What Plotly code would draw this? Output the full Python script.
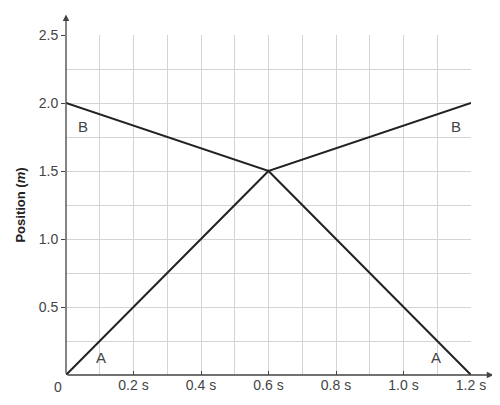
import plotly.graph_objects as go

# position-time data for the two objects
time_s = [0.0, 0.6, 1.2]
pos_a = [0.0, 1.5, 0.0]
pos_b = [2.0, 1.5, 2.0]

x_ticks = [0.2, 0.4, 0.6, 0.8, 1.0, 1.2]
x_ticklabels = ["0.2 s", "0.4 s", "0.6 s", "0.8 s", "1.0 s", "1.2 s"]
y_ticks = [0.5, 1.0, 1.5, 2.0, 2.5]
y_ticklabels = ["0.5", "1.0", "1.5", "2.0", "2.5"]

# curve labels: (text, x, y)
labels = [("B", 0.05, 1.83), ("B", 1.155, 1.83), ("A", 0.105, 0.13), ("A", 1.095, 0.13)]

FONT = "Liberation Sans"
INK = "#222222"
TXT = "#444444"

fig = go.Figure()
for ys in (pos_a, pos_b):
    fig.add_trace(go.Scatter(
        x=time_s, y=ys, mode="lines",
        line=dict(color=INK, width=2), showlegend=False, hoverinfo="skip",
    ))

for text, x, y in labels:
    fig.add_annotation(x=x, y=y, text=text, showarrow=False,
                       font=dict(family=FONT, size=15, color=TXT))

# origin label
fig.add_annotation(x=0, y=0, text="0", showarrow=False, xanchor="right", yanchor="top",
                   xshift=-2, yshift=-2, font=dict(family=FONT, size=14, color=TXT))

# axis arrows
fig.add_annotation(x=0, y=1.06, ax=0, ay=0, xref="x domain", yref="y domain",
                   axref="x domain", ayref="y domain", showarrow=True, text="",
                   arrowhead=2, arrowsize=1, arrowwidth=1.3, arrowcolor="#444444")
fig.add_annotation(x=1.055, y=0, ax=0, ay=0, xref="x domain", yref="y domain",
                   axref="x domain", ayref="y domain", showarrow=True, text="",
                   arrowhead=2, arrowsize=1, arrowwidth=1.3, arrowcolor="#444444")
fig.add_annotation(x=1.06, y=0, xref="x domain", yref="y domain", text="<i>t</i>",
                   showarrow=False, xanchor="left", yanchor="top", yshift=2,
                   font=dict(family=FONT, size=15, color=TXT))

fig.update_xaxes(
    range=[0, 1.2], tickvals=x_ticks, ticktext=x_ticklabels,
    showgrid=True, gridcolor="#d4d4d4", gridwidth=1,
    minor=dict(dtick=0.1, tick0=0, showgrid=True, gridcolor="#d4d4d4", gridwidth=1),
    zeroline=False, showline=False,
    ticks="inside", ticklen=4, tickcolor="#444444",
    tickfont=dict(family=FONT, size=14, color=TXT),
)
fig.update_yaxes(
    range=[0, 2.5], tickvals=y_ticks, ticktext=y_ticklabels,
    showgrid=True, gridcolor="#d4d4d4", gridwidth=1,
    minor=dict(dtick=0.25, tick0=0, showgrid=True, gridcolor="#d4d4d4", gridwidth=1),
    zeroline=False, showline=False,
    ticks="outside", ticklen=4, tickcolor="#444444",
    tickfont=dict(family=FONT, size=14, color=TXT),
    title=dict(text="<b>Position (<i>m</i>)</b>", standoff=10,
               font=dict(family=FONT, size=13, color="#222222")),
)

# the page adds an 8px body margin, so the figure is sized to fit the window
fig.update_layout(
    width=492, height=397,
    margin=dict(l=55, r=29, t=27, b=30),
    plot_bgcolor="white", paper_bgcolor="white",
)

fig.write_html("out.html")
